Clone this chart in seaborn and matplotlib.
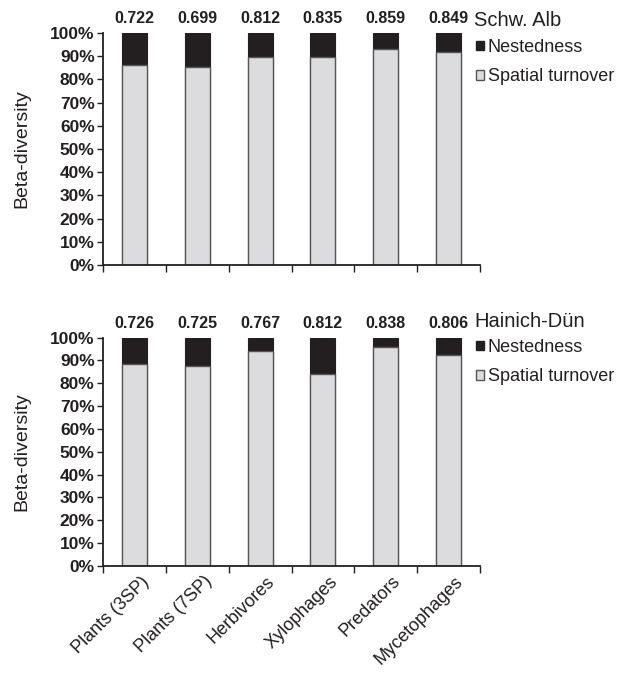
import pandas as pd
import numpy as np
import seaborn as sns
import matplotlib.pyplot as plt
from matplotlib.patches import Patch
from matplotlib.ticker import PercentFormatter, FixedLocator
from matplotlib.transforms import ScaledTranslation

groups = ['Plants (3SP)', 'Plants (7SP)', 'Herbivores', 'Xylophages', 'Predators', 'Mycetophages']

# Schw. Alb
alb_total = ['0.722', '0.699', '0.812', '0.835', '0.859', '0.849']
alb_turnover = [0.862, 0.852, 0.895, 0.895, 0.930, 0.918]

# Hainich-Dün
hai_total = ['0.726', '0.725', '0.767', '0.812', '0.838', '0.806']
hai_turnover = [0.885, 0.876, 0.943, 0.841, 0.959, 0.924]

regions = ['Schw. Alb', 'Hainich-Dün']

sns.set_style('white')
plt.rcParams['font.family'] = ['Liberation Sans', 'DejaVu Sans']

dark = '#231f20'
light = '#dcdcde'
edge = '#555555'

W, H = 624, 674
fig = plt.figure(figsize=(W / 100, H / 100), dpi=100)
ax1 = fig.add_axes([103 / W, 1 - 265 / H, 377 / W, 232 / H])
ax2 = fig.add_axes([103 / W, 1 - 566 / H, 377 / W, 228.5 / H])

# pixel rows of legend title / first entry for each panel
panels = [(ax1, alb_total, alb_turnover, regions[0], 20, 39),
          (ax2, hai_total, hai_turnover, regions[1], 321, 339)]

for ax, totals, turnover, name, title_y, leg_y in panels:
    df = pd.DataFrame({'group': groups, 'turnover': turnover, 'full': [1.0] * len(groups)})
    sns.barplot(data=df, x='group', y='full', color=dark, width=0.4,
                edgecolor=dark, linewidth=0.8, saturation=1, ax=ax)
    sns.barplot(data=df, x='group', y='turnover', color=light, width=0.4,
                edgecolor=edge, linewidth=1.0, saturation=1, ax=ax)

    for i, t in enumerate(totals):
        ax.annotate(t, (i, 1.0), xytext=(0, 5), textcoords='offset points',
                    ha='center', va='bottom', fontsize=11.5, fontweight='bold',
                    color='#231f20')

    ax.set_xlim(-0.5, 5.5)
    ax.set_ylim(0, 1)
    ax.yaxis.set_major_locator(FixedLocator(np.arange(0, 1.01, 0.1)))
    ax.yaxis.set_major_formatter(PercentFormatter(1.0, decimals=0))
    for lab in ax.get_yticklabels():
        lab.set_fontweight('bold')
        lab.set_fontsize(12.5)
        lab.set_color('#231f20')
    ax.tick_params(axis='y', direction='out', length=4, width=1, color='#231f20', pad=2, left=True)
    ax.set_ylabel('Beta-diversity', fontsize=14, labelpad=14, color='#231f20')
    ax.set_xlabel('')

    # category separators as ticks
    ax.xaxis.set_major_locator(FixedLocator(np.arange(-0.5, 6, 1)))
    ax.tick_params(axis='x', direction='out', length=5, width=1, color='#231f20', bottom=True)
    ax.set_xticklabels([])

    sns.despine(ax=ax)
    for s in ['left', 'bottom']:
        ax.spines[s].set_color('#231f20')
        ax.spines[s].set_linewidth(1.3)

    fig.text(474 / W, 1 - title_y / H, name, fontsize=14.5, va='center', ha='left',
             color='#231f20')
    handles = [Patch(facecolor=dark, edgecolor=dark, label='Nestedness'),
               Patch(facecolor=light, edgecolor=edge, label='Spatial turnover')]
    fig.legend(handles=handles, loc='upper left',
               bbox_to_anchor=(476 / W, 1 - leg_y / H), frameon=False, fontsize=13,
               handlelength=0.45, handleheight=0.45, handletextpad=0.2,
               labelspacing=0.68, borderpad=0, borderaxespad=0, labelcolor='#231f20')

# category labels on the bottom panel
ax2.set_xticks(np.arange(0, 6), minor=True)
ax2.set_xticklabels(groups, minor=True, rotation=45, ha='right',
                    rotation_mode='anchor', fontsize=13, color='#231f20')
ax2.tick_params(axis='x', which='minor', length=0, pad=5)
offset = ScaledTranslation(6 / 100, 0, fig.dpi_scale_trans)
for lab in ax2.get_xticklabels(minor=True):
    lab.set_transform(lab.get_transform() + offset)

fig.savefig('out.png', dpi=100)
